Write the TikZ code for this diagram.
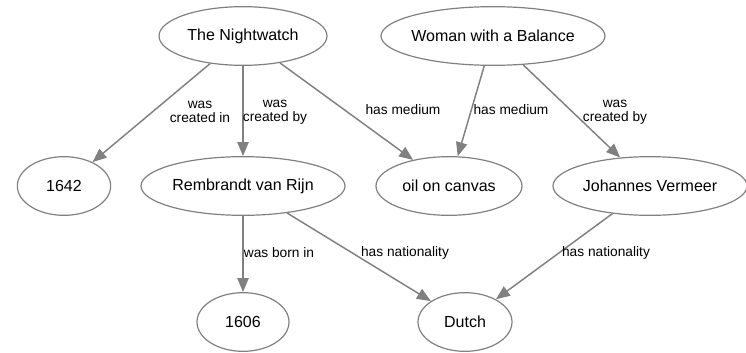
\documentclass[tikz,border=0pt]{standalone}
\usepackage{fontspec}
\setmainfont{Liberation Sans}
\usetikzlibrary{shapes.geometric}
\usetikzlibrary{arrows.meta}

\begin{document}
\begin{tikzpicture}[x=0.75pt, y=-0.75pt,
    entity/.style={ellipse, draw=gray, line width=0.9pt, inner xsep=-3pt, inner ysep=0pt,
      minimum height=44pt, font=\fontsize{12}{14}\selectfont},
    edge/.style={draw=gray, line width=1.1pt, -{Triangle[length=10.5pt, width=8.5pt]}},
    elabel/.style={font=\fontsize{10.3}{10.6}\selectfont, align=center, inner sep=0pt}]
      \useasboundingbox (0,0) rectangle (746,353);
      % Paintings
      \node[entity, minimum width=126pt] (nightwatch) at (243,36) {The Nightwatch};
      \node[entity, minimum width=168pt] (woman) at (493,36) {Woman with a Balance};
      % Second row
      \node[entity, minimum width=70pt] (y1642) at (64,186) {1642};
      \node[entity, minimum width=153pt] (rembrandt) at (243,186) {Rembrandt van Rijn};
      \node[entity, minimum width=109.5pt] (oil) at (449,186) {oil on canvas};
      \node[entity, minimum width=145.5pt] (vermeer) at (650,186) {Johannes Vermeer};
      % Third row
      \node[entity, minimum width=69pt] (y1606) at (243,322) {1606};
      \node[entity, minimum width=70.5pt] (dutch) at (465,322) {Dutch};
      % Relations
      \draw[edge] (nightwatch) -- (y1642);
      \draw[edge] (nightwatch) -- (rembrandt);
      \draw[edge] (nightwatch) -- (oil);
      \draw[edge] (woman) -- (oil);
      \draw[edge] (woman) -- (vermeer);
      \draw[edge] (rembrandt) -- (y1606);
      \draw[edge] (rembrandt) -- (dutch);
      \draw[edge] (vermeer) -- (dutch);
      % Relation labels
      \node[elabel] (lcreatedin) at (200,112) {was\\created in};
      \node[elabel] (lcreatedby) at (275,112) {was\\created by};
      \node[elabel] (lmediumnw) at (403,110) {has medium};
      \node[elabel] (lmediumwb) at (511,110) {has medium};
      \node[elabel] (lcreatedbyv) at (615,112) {was\\created by};
      \node[elabel] (lborn) at (279,253) {was born in};
      \node[elabel] (lnatr) at (405,253) {has nationality};
      \node[elabel] (lnatv) at (606,253) {has nationality};
    \end{tikzpicture}
\end{document}
